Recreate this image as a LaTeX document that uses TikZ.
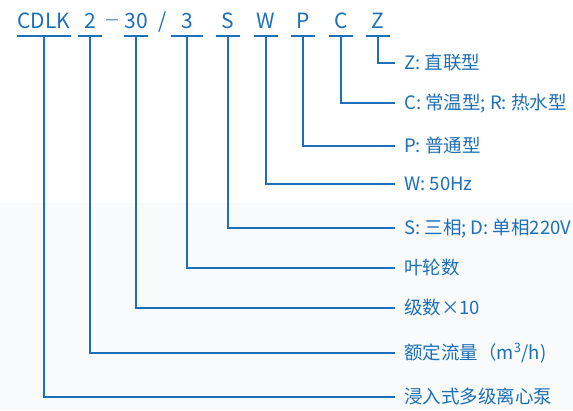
\documentclass[tikz,border=0pt]{standalone}
\usepackage{fontspec}
\setmainfont{Noto Sans CJK SC}
\definecolor{pumpblue}{RGB}{28,111,184}
\definecolor{lightbg}{RGB}{248,250,251}

\begin{document}
\begin{tikzpicture}[x=1pt,y=-1pt,
  code/.style={anchor=base,inner xsep=0pt,inner ysep=8pt,text depth=0pt,minimum width=24pt,
    font=\fontsize{21}{21}\selectfont,text=pumpblue},
  sep/.style={anchor=base,inner sep=0pt,font=\fontsize{21}{21}\selectfont,text=pumpblue},
  lab/.style={anchor=west,inner xsep=9pt,inner ysep=0pt,text height=14pt,text depth=1.5pt,
    font=\fontsize{18.5}{18.5}\selectfont,text=pumpblue},
  line/.style={pumpblue,line width=1.5pt}]
% frame
\useasboundingbox (0,0) rectangle (573,410);
\fill[lightbg] (0,203) rectangle (573,410);
% model code
\node[code] (cdlk) at (44,28) {CDLK};
\node[code] (two) at (90,28) {2};
\node[sep,anchor=center,font=\fontsize{15}{15}\selectfont] (dash) at (112,22) {—};
\node[code] (thirty) at (136,28) {30};
\node[sep] (slash) at (163,28) {/};
\node[code,minimum width=32pt] (three) at (187,28) {3};
\node[code] (s) at (228,28) {S};
\node[code] (w) at (266,28) {W};
\node[code] (p) at (303,28) {P};
\node[code] (c) at (341,28) {C};
\node[code] (z) at (378,28) {Z};
% underlines
\foreach \n in {cdlk,two,thirty,three,s,w,p,c,z}
  \draw[line] (\n.south west) -- (\n.south east);
% meaning of each part
\node[lab] (lz) at (395,63) {Z: 直联型};
\node[lab] (lc) at (395,103) {C: 常温型; R: 热水型};
\node[lab] (lp) at (395,146) {P: 普通型};
\node[lab] (lw) at (395,184) {W: 50Hz};
\node[lab] (ls) at (395,228) {S: 三相; D: 单相220V};
\node[lab] (lthree) at (395,268) {叶轮数};
\node[lab] (lthirty) at (395,308) {级数×10};
\node[lab] (ltwo) at (395,353) {额定流量（m\textsuperscript{3}/h)};
\node[lab] (lcdlk) at (395,397) {浸入式多级离心泵};
% leaders
\foreach \n in {cdlk,two,thirty,three,s,w,p,c,z}
  \draw[line] (\n.south) |- (l\n.west);
\end{tikzpicture}
\end{document}
